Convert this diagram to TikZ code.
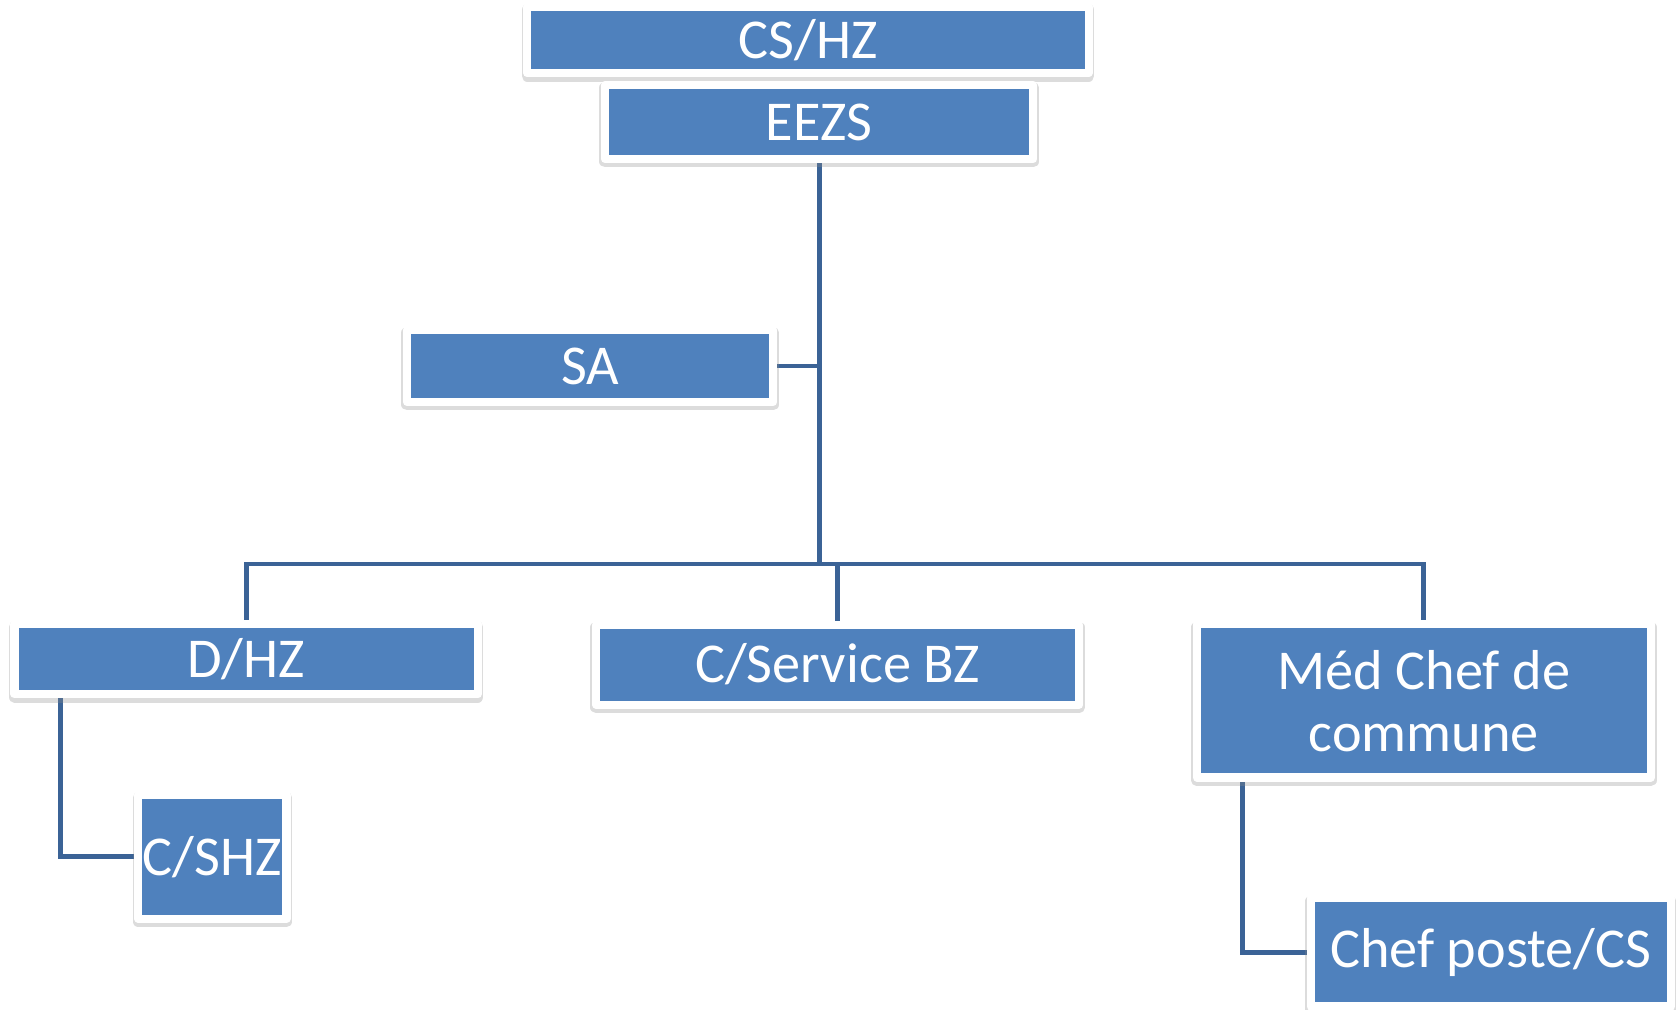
\documentclass[tikz,border=0pt]{standalone}
\usepackage{fontspec}
\setmainfont{Carlito}
\usepackage{tikz}
\usetikzlibrary{shadows,backgrounds}
\definecolor{boxblue}{HTML}{4F81BD}
\definecolor{linkblue}{HTML}{3B6396}
\tikzstyle{unit} = [draw=white, line width=2.3pt, line join=round, fill=boxblue, text=white, inner sep=0pt, align=center,
  font=\fontsize{16}{17.6}\selectfont,
  drop shadow={shadow xshift=0pt, shadow yshift=-0.8pt, draw=black!45, fill=black!45, line width=3.2pt, line join=round, opacity=0.3}]
\tikzstyle{link} = [draw=linkblue, line width=1.4pt]

\begin{document}
\begin{tikzpicture}[x=0.0107cm, y=-0.0107cm]
  \useasboundingbox (0,0) rectangle (1568,943);

  \node[unit, minimum width=5.61cm, minimum height=0.66cm] (cshz) at (755,37.5) {CS/HZ};
  \node[unit, minimum width=4.28cm, minimum height=0.74cm] (eezs) at (765.5,114) {EEZS};
  \node[unit, minimum width=3.66cm, minimum height=0.72cm] (sa) at (551.5,342) {SA};
  \node[unit, minimum width=4.63cm, minimum height=0.70cm] (dhz) at (230,616) {D/HZ};
  \node[unit, minimum width=4.83cm, minimum height=0.80cm] (csbz) at (782.75,621) {C/Service BZ};
  \node[unit, minimum width=4.54cm, minimum height=1.53cm] (med) at (1330.5,655) {Méd Chef de\\commune};
  \node[unit, minimum width=1.48cm, minimum height=1.24cm] (cshz2) at (198.5,800.75) {C/SHZ};
  \node[unit, minimum width=3.60cm, minimum height=1.08cm] (chef) at (1393,890) {Chef poste/CS};

  \coordinate (jn) at (765.5,527);

  \begin{scope}[on background layer]
    \draw[link] (eezs.south) -- (jn);
    \draw[link] (sa.east) -- (sa.east -| jn);
    \draw[link] (dhz.north) |- (med.north |- jn) -- (med.north);
    \draw[link] (csbz.north) -- (csbz.north |- jn);
    \draw[link] ([xshift=0.50cm]dhz.south west) |- (cshz2.west);
    \draw[link] ([xshift=0.50cm]med.south west) |- (chef.west);
  \end{scope}

\end{tikzpicture}
\end{document}
